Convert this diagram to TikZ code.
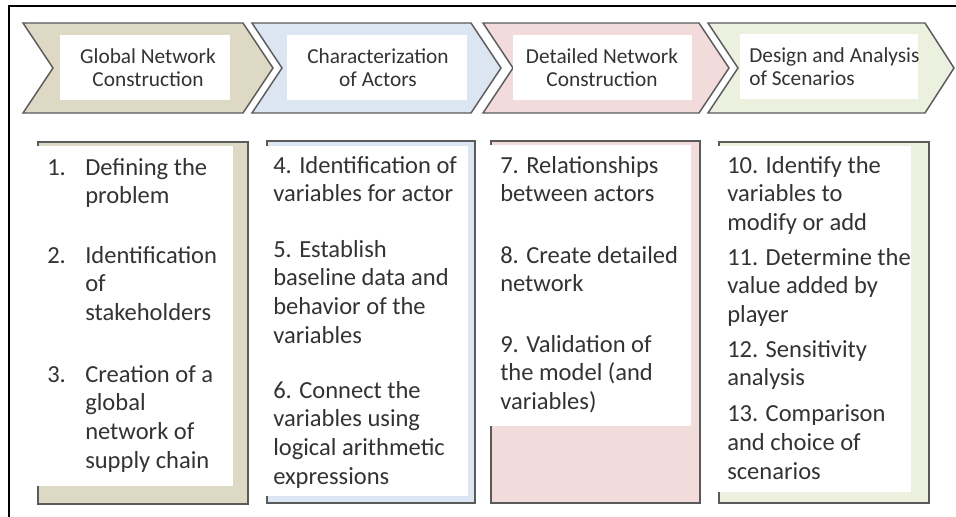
\documentclass[tikz,border=0pt]{standalone}
\usepackage{fontspec}
\setmainfont{Carlito}
\definecolor{khaki}{HTML}{DDD9C4}
\definecolor{paleblue}{HTML}{DCE6F2}
\definecolor{palepink}{HTML}{F2DCDB}
\definecolor{palegreen}{HTML}{EBF1DE}
\definecolor{txtgray}{HTML}{333333}
\definecolor{linegray}{HTML}{5A5A5A}
\begin{document}
\begin{tikzpicture}[x=0.75pt, y=-0.75pt,
  chevron/.style={draw=linegray, line width=1.1pt, line join=miter},
  bracket/.style={draw=linegray, line width=1.5pt},
  head node/.style={inner sep=0pt, align=center, text=txtgray, font=\fontsize{16}{17.25}\selectfont},
  item node/.style={anchor=north west, yshift=12.9pt, inner sep=0pt, align=left, text=txtgray,
    font=\fontsize{18.4}{21.6}\selectfont, execute at begin node=\strut}]
\useasboundingbox (0,0) rectangle (956,517);
\draw[line width=2.2pt] (9,517) -- (9,6) -- (956,6);
% chevrons
\draw[chevron, fill=khaki] (23,23) -- (243,23) -- (273,68) -- (243,113) -- (23,113) -- (53,68) -- cycle;
\draw[chevron, fill=paleblue] (252,23) -- (471,23) -- (501,68) -- (471,113) -- (252,113) -- (282,68) -- cycle;
\draw[chevron, fill=palepink] (483,23) -- (699,23) -- (729,68) -- (699,113) -- (483,113) -- (513,68) -- cycle;
\draw[chevron, fill=palegreen] (708,23) -- (925,23) -- (954,68) -- (925,113) -- (708,113) -- (738,68) -- cycle;
\fill[white] (60,35) rectangle (230,100);
\fill[white] (287,35) rectangle (467,100);
\fill[white] (513,35) rectangle (692,100);
\fill[white] (740,34) rectangle (918,99);
\node[head node] (h1) at (148,68) {Global Network\\Construction};
\node[head node] (h2) at (378,68) {Characterization\\of Actors};
\node[head node] (h3) at (602,68) {Detailed Network\\Construction};
\node[head node, anchor=west, align=left] (h4) at (749,67) {Design and Analysis\\of Scenarios};
% brackets
\draw[bracket, fill=khaki] (38,142) rectangle (248,504);
\draw[bracket, fill=paleblue] (267,141) rectangle (475,503);
\draw[bracket, fill=palepink] (491,141) rectangle (700,503);
\draw[bracket, fill=palegreen] (719,142) rectangle (929,503);
\fill[white] (35,146) rectangle (233,486);
\fill[white] (264,146) rectangle (468,496);
\fill[white] (488,145) rectangle (691,426);
\fill[white] (716,146) rectangle (911,492);
\begin{scope}[every node/.style={item node}]
\node[yshift=2.2pt] (n1) at (47,175) {1.};
\node (s1) at (85,175) {Defining the\\problem};
\node[yshift=2.2pt] (n2) at (47,263) {2.};
\node (s2) at (85,263) {Identification\\of\\stakeholders};
\node[yshift=2.2pt] (n3) at (47,382) {3.};
\node (s3) at (85,382) {Creation of a\\global\\network of\\supply chain};
\node (s4) at (273,173) {4. Identification of\\variables for actor};
\node (s5) at (273,257) {5. Establish\\baseline data and\\behavior of the\\variables};
\node (s6) at (273,398) {6. Connect the\\variables using\\logical arithmetic\\expressions};
\node (s7) at (500,173) {7. Relationships\\between actors};
\node (s8) at (500,263) {8. Create detailed\\network};
\node (s9) at (500,352) {9. Validation of\\the model (and\\variables)};
\node (s10) at (727,173) {10. Identify the\\variables to\\modify or add};
\node (s11) at (727,265) {11. Determine the\\value added by\\player};
\node (s12) at (727,357) {12. Sensitivity\\analysis};
\node (s13) at (727,422) {13. Comparison\\and choice of\\scenarios};
\end{scope}
\end{tikzpicture}
\end{document}
